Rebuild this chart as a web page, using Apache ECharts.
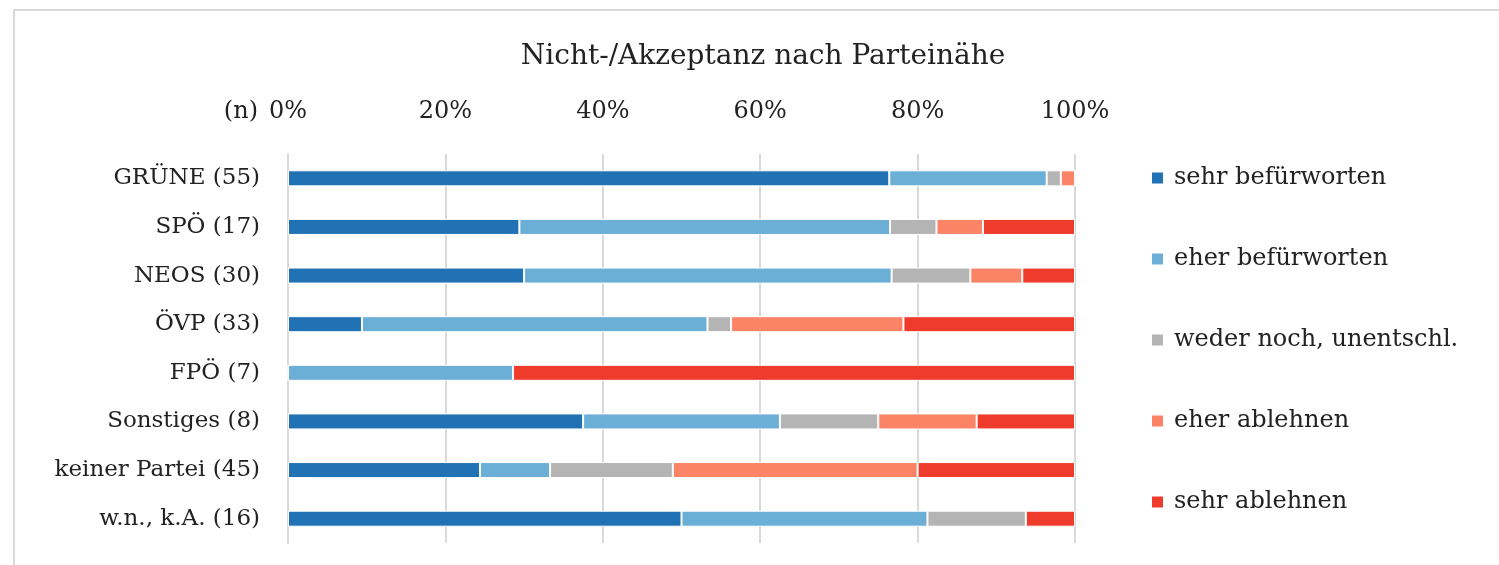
<!DOCTYPE html>
<html>
<head>
<meta charset="utf-8">
<script src="https://cdn.jsdelivr.net/npm/echarts@6/dist/echarts.min.js"></script>
<style>
  html, body { margin: 0; padding: 0; background: #fff; }
  #chart { width: 1499px; height: 565px; }
</style>
</head>
<body>
<div id="chart"></div>
<script>
// Anteile in % je Parteinähe
var categories = ['GRÜNE (55)', 'SPÖ (17)', 'NEOS (30)', 'ÖVP (33)', 'FPÖ (7)', 'Sonstiges (8)', 'keiner Partei (45)', 'w.n., k.A. (16)'];
var sehrBefuerworten = [76.4, 29.4, 30.0, 9.4, 0, 37.5, 24.4, 50.0];
var eherBefuerworten = [20.0, 47.1, 46.7, 43.9, 28.6, 25.0, 8.9, 31.25];
var wederNoch = [1.8, 5.9, 10.0, 3.0, 0, 12.5, 15.6, 12.5];
var eherAblehnen = [1.8, 5.9, 6.6, 21.9, 0, 12.5, 31.1, 0];
var sehrAblehnen = [0, 11.7, 6.7, 21.8, 71.4, 12.5, 20.0, 6.25];
var xTicks = [0, 20, 40, 60, 80, 100];

var font = 'DejaVu Serif';
var chart = echarts.init(document.getElementById('chart'));

function bar(name, data, color) {
    return {
        name: name,
        type: 'bar',
        stack: 'total',
        barWidth: 16,
        data: data,
        itemStyle: { color: color, borderColor: '#fff', borderWidth: 1 }
    };
}

chart.setOption({
    animation: false,
    textStyle: { fontFamily: font },
    title: {
        text: 'Nicht-/Akzeptanz nach Parteinähe',
        left: 758,
        textAlign: 'center',
        top: 38,
        textStyle: { fontFamily: font, fontSize: 28, fontWeight: 'normal', color: '#222' }
    },
    legend: {
        orient: 'vertical',
        left: 1145,
        top: 161,
        itemWidth: 13,
        itemHeight: 13,
        itemGap: 57,
        icon: 'rect',
        textStyle: { fontFamily: font, fontSize: 24, color: '#222', padding: [0, 0, 0, 5] },
        data: ['sehr befürworten', 'eher befürworten', 'weder noch, unentschl.', 'eher ablehnen', 'sehr ablehnen']
    },
    graphic: [{
        type: 'rect',
        shape: { x: 14, y: 10, width: 1600, height: 700 },
        style: { fill: 'none', stroke: '#d9d9d9', lineWidth: 2 },
        silent: true
    }],
    grid: { left: 288, right: 424, top: 154, bottom: 22 },
    xAxis: {
        type: 'value',
        position: 'top',
        min: xTicks[0],
        max: xTicks[xTicks.length - 1],
        interval: 20,
        axisLine: { show: false },
        axisTick: { show: false },
        axisLabel: { formatter: '{value}%', fontSize: 24, color: '#222', margin: 30, fontFamily: font },
        splitLine: { lineStyle: { color: '#d9d9d9', width: 2 } }
    },
    yAxis: {
        type: 'category',
        inverse: true,
        data: categories,
        name: '(n)',
        nameLocation: 'start',
        nameGap: 30,
        nameTextStyle: { fontSize: 24, color: '#222', align: 'right', padding: [0, 30, 0, 0], fontFamily: font },
        axisLine: { lineStyle: { color: '#d9d9d9', width: 2 } },
        axisTick: { show: false },
        axisLabel: { fontSize: 23, color: '#222', margin: 28, fontFamily: font }
    },
    series: [
        bar('sehr befürworten', sehrBefuerworten, '#2171b5'),
        bar('eher befürworten', eherBefuerworten, '#6baed6'),
        bar('weder noch, unentschl.', wederNoch, '#b4b4b4'),
        bar('eher ablehnen', eherAblehnen, '#fc8466'),
        bar('sehr ablehnen', sehrAblehnen, '#ef3b2c')
    ]
});
</script>
</body>
</html>
